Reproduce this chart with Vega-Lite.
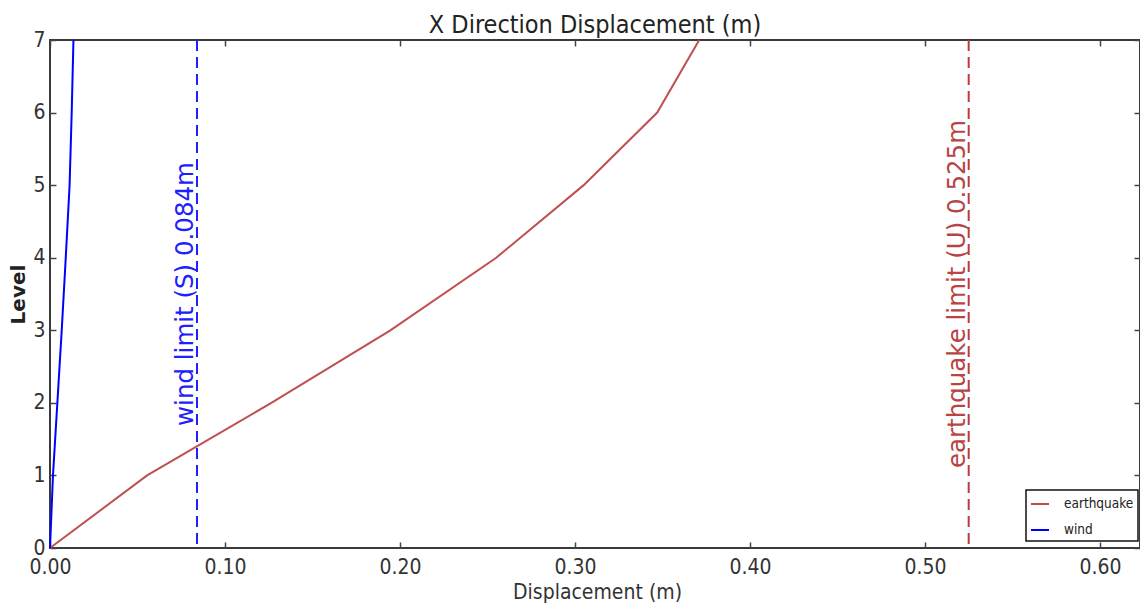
{
  "$schema": "https://vega.github.io/schema/vega-lite/v6.json",
  "width": 1090,
  "height": 508,
  "autosize": {"type": "none"},
  "padding": {"left": 50, "top": 40, "right": 0, "bottom": 59},
  "background": "white",
  "config": {
    "view": {"stroke": "#3a3a3a", "strokeWidth": 2},
    "font": "DejaVu Sans Condensed",
    "legend": {
      "orient": "none",
      "legendX": 976,
      "legendY": 450,
      "strokeColor": "#111111",
      "strokeWidth": 1.5,
      "fillColor": "white",
      "padding": 4,
      "symbolType": "stroke",
      "symbolSize": 324,
      "symbolStrokeWidth": 2,
      "labelFont": "DejaVu Sans Condensed",
      "labelFontSize": 13.5,
      "labelColor": "#222222",
      "rowPadding": 9,
      "labelOffset": 14,
      "title": null
    }
  },
  "title": {
    "text": "X Direction Displacement (m)",
    "font": "DejaVu Sans Condensed",
    "fontSize": 25,
    "fontWeight": "normal",
    "color": "#222222",
    "anchor": "middle",
    "offset": -9
  },
  "datasets": {
    "lines": [
      {"series": "earthquake", "level": 0, "disp": 0.0},
      {"series": "earthquake", "level": 1, "disp": 0.0555},
      {"series": "earthquake", "level": 2, "disp": 0.1265},
      {"series": "earthquake", "level": 3, "disp": 0.1945},
      {"series": "earthquake", "level": 4, "disp": 0.255},
      {"series": "earthquake", "level": 5, "disp": 0.305},
      {"series": "earthquake", "level": 6, "disp": 0.347},
      {"series": "earthquake", "level": 7, "disp": 0.371},
      {"series": "wind", "level": 0, "disp": 0.0},
      {"series": "wind", "level": 1, "disp": 0.0017},
      {"series": "wind", "level": 2, "disp": 0.0042},
      {"series": "wind", "level": 3, "disp": 0.0067},
      {"series": "wind", "level": 4, "disp": 0.009},
      {"series": "wind", "level": 5, "disp": 0.0112},
      {"series": "wind", "level": 6, "disp": 0.0124},
      {"series": "wind", "level": 7, "disp": 0.0134}
    ],
    "limits": [
      {"series": "wind", "limit": 0.084, "label": "wind limit (S) 0.084m"},
      {"series": "earthquake", "limit": 0.525, "label": "earthquake limit (U) 0.525m"}
    ]
  },
  "layer": [
    {
      "data": {"name": "lines"},
      "mark": {"type": "line", "strokeWidth": 2},
      "encoding": {
        "x": {
          "field": "disp", "type": "quantitative",
          "scale": {"domain": [0, 0.6229], "nice": false, "zero": false},
          "axis": {
            "orient": "bottom",
            "values": [0, 0.1, 0.2, 0.3, 0.4, 0.5, 0.6],
            "format": ".2f",
            "grid": false, "domain": false,
            "tickSize": -6, "tickColor": "#444444", "tickWidth": 1.5,
            "labelFlush": false, "labelOverlap": false, "labelBound": false,
            "labelFont": "DejaVu Sans Condensed", "labelFontSize": 21, "labelColor": "#333333",
            "labelPadding": 14,
            "title": "Displacement (m)",
            "titleFont": "DejaVu Sans Condensed", "titleFontSize": 21, "titleFontWeight": "normal", "titleColor": "#333333",
            "titleX": 547, "titleY": 50, "titleBaseline": "alphabetic", "titleAnchor": "middle"
          }
        },
        "y": {
          "field": "level", "type": "quantitative",
          "scale": {"domain": [0, 7], "nice": false},
          "axis": {
            "orient": "left",
            "values": [0, 1, 2, 3, 4, 5, 6, 7],
            "grid": false, "domain": false,
            "tickSize": -6, "tickColor": "#444444", "tickWidth": 1.5,
            "labelFlush": false, "labelOverlap": false, "labelBound": false,
            "labelFont": "DejaVu Sans Condensed", "labelFontSize": 21, "labelColor": "#333333",
            "labelPadding": 11,
            "title": "Level",
            "titleFont": "DejaVu Sans", "titleFontSize": 20, "titleFontWeight": "bold", "titleColor": "#222222",
            "titleX": -32, "titleY": 254, "titleAngle": 270, "titleBaseline": "middle", "titleAnchor": "middle"
          }
        },
        "color": {
          "field": "series", "type": "nominal",
          "scale": {"domain": ["earthquake", "wind"], "range": ["#c05050", "#0000ff"]}
        },
        "order": {"field": "level", "type": "quantitative"}
      }
    },
    {
      "data": {"name": "limits"},
      "transform": [{"filter": "datum.series === 'wind'"}],
      "mark": {"type": "rule", "stroke": "#2020ff", "strokeWidth": 2, "strokeDash": [11, 6]},
      "encoding": {"x": {"field": "limit", "type": "quantitative", "axis": null}}
    },
    {
      "data": {"name": "limits"},
      "transform": [{"filter": "datum.series === 'earthquake'"}],
      "mark": {"type": "rule", "stroke": "#b83c3c", "strokeWidth": 2, "strokeDash": [11, 6]},
      "encoding": {"x": {"field": "limit", "type": "quantitative", "axis": null}}
    },
    {
      "data": {"name": "limits"},
      "transform": [{"filter": "datum.series === 'wind'"}],
      "mark": {"type": "text", "angle": 270, "align": "center", "baseline": "middle", "dy": -11, "font": "DejaVu Sans", "fontSize": 24.5, "fill": "#2020ff"},
      "encoding": {
        "x": {"field": "limit", "type": "quantitative", "axis": null},
        "y": {"datum": 3.5, "type": "quantitative", "axis": null},
        "text": {"field": "label"}
      }
    },
    {
      "data": {"name": "limits"},
      "transform": [{"filter": "datum.series === 'earthquake'"}],
      "mark": {"type": "text", "angle": 270, "align": "center", "baseline": "middle", "dy": -11, "font": "DejaVu Sans", "fontSize": 24.5, "fill": "#b84444"},
      "encoding": {
        "x": {"field": "limit", "type": "quantitative", "axis": null},
        "y": {"datum": 3.5, "type": "quantitative", "axis": null},
        "text": {"field": "label"}
      }
    },
    {
      "data": {"name": "lines"},
      "mark": {"type": "point", "opacity": 0},
      "encoding": {
        "x": {
          "field": "disp", "type": "quantitative",
          "axis": {
            "orient": "top", "values": [0, 0.1, 0.2, 0.3, 0.4, 0.5, 0.6],
            "labels": false, "grid": false, "domain": false, "title": null,
            "tickSize": -6, "tickColor": "#444444", "tickWidth": 1.5
          }
        },
        "y": {
          "field": "level", "type": "quantitative",
          "axis": {
            "orient": "right", "values": [0, 1, 2, 3, 4, 5, 6, 7],
            "labels": false, "grid": false, "domain": false, "title": null,
            "tickSize": -6, "tickColor": "#444444", "tickWidth": 1.5
          }
        }
      }
    }
  ],
  "resolve": {"axis": {"x": "independent", "y": "independent"}}
}
